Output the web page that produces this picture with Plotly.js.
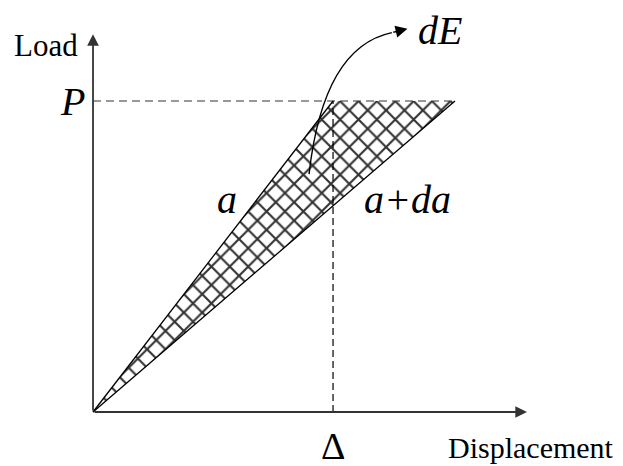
<!DOCTYPE html>
<html><head><meta charset="utf-8">
<script src="https://cdn.plot.ly/plotly-3.0.1.min.js"></script>
<style>html,body{margin:0;padding:0;background:#fff}#chart{width:623px;height:466px}</style>
</head><body><div id="chart"></div>
<script>
// Data (normalized units: Δ = 1 displacement, P = 1 load)
const origin = [0, 0];
const lineA_x = [0, 1];        // crack length a : reaches P at Δ
const lineA_y = [0, 1];
const lineAda_x = [0, 1.508];  // crack length a+da
const lineAda_y = [0, 1];
const hatchX = [0, 1, 1.508, 0];
const hatchY = [0, 1, 1, 0];
const dashH_x = [0, 1.508];
const dashH_y = [1, 1];
const dashV_x = [1, 1];
const dashV_y = [0, 1];
const axisTipX = 1.808;
const axisTipY = 1.215;
const curveX = [0.9, 0.94, 1.06, 1.245];
const curveY = [0.765, 1.04, 1.19, 1.22];
const curveTip = [1.31, 1.232];
const labels = [
  {text: 'Load', x: -0.196, y: 1.178, size: 31, italic: false},
  {text: 'P', x: -0.085, y: 1.0, size: 40, italic: true},
  {text: 'dE', x: 1.445, y: 1.228, size: 40, italic: true},
  {text: 'a', x: 0.56, y: 0.682, size: 40, italic: true},
  {text: 'a+da', x: 1.31, y: 0.682, size: 40, italic: true},
  {text: 'Δ', x: 1.0, y: -0.108, size: 38, italic: false},
  {text: 'Displacement', x: 1.825, y: -0.115, size: 30, italic: false}
];

const traces = [
  {x: hatchX, y: hatchY, mode: 'lines', fill: 'toself', line: {width: 0},
   fillcolor: 'rgba(0,0,0,0)',
   fillpattern: {shape: 'x', size: 13, solidity: 0.3, fgcolor: '#333', bgcolor: '#fff'},
   hoverinfo: 'skip'},
  {x: dashH_x, y: dashH_y, mode: 'lines', line: {color: '#333', width: 1.2, dash: '8px,5px'}},
  {x: dashV_x, y: dashV_y, mode: 'lines', line: {color: '#000', width: 1.2, dash: '7px,4px'}},
  {x: lineA_x, y: lineA_y, mode: 'lines', line: {color: '#000', width: 1.3}},
  {x: lineAda_x, y: lineAda_y, mode: 'lines', line: {color: '#000', width: 1.3}}
];

const annotations = [
  {x: axisTipX, y: 0, ax: origin[0], ay: origin[1], axref: 'x', ayref: 'y', xref: 'x', yref: 'y',
   showarrow: true, arrowhead: 2, arrowsize: 1.3, arrowwidth: 1.8, arrowcolor: '#333', text: '', standoff: 0},
  {x: 0, y: axisTipY, ax: origin[0], ay: origin[1], axref: 'x', ayref: 'y', xref: 'x', yref: 'y',
   showarrow: true, arrowhead: 2, arrowsize: 1.3, arrowwidth: 1.8, arrowcolor: '#333', text: '', standoff: 0},
  {x: curveTip[0], y: curveTip[1], ax: curveX[3], ay: curveY[3], axref: 'x', ayref: 'y', xref: 'x', yref: 'y',
   showarrow: true, arrowhead: 2, arrowsize: 1.7, arrowwidth: 1.4, arrowcolor: '#000', text: '', standoff: 0}
];
labels.forEach(l => annotations.push({
  x: l.x, y: l.y, xref: 'x', yref: 'y', showarrow: false,
  text: l.italic ? '<i>' + l.text + '</i>' : l.text,
  font: {family: 'Liberation Serif, Times New Roman, serif', size: l.size, color: '#000'}
}));

const path = 'M ' + curveX[0] + ',' + curveY[0] + ' C ' + curveX[1] + ',' + curveY[1] + ' ' +
  curveX[2] + ',' + curveY[2] + ' ' + curveX[3] + ',' + curveY[3];

const layout = {
  width: 623, height: 466,
  margin: {l: 0, r: 0, t: 0, b: 0},
  paper_bgcolor: '#fff', plot_bgcolor: '#fff',
  showlegend: false,
  xaxis: {range: [-0.3875, 2.208], visible: false, fixedrange: true},
  yaxis: {range: [-0.1736, 1.3248], visible: false, fixedrange: true},
  shapes: [{type: 'path', path: path, xref: 'x', yref: 'y', line: {color: '#000', width: 1.4}}],
  annotations: annotations
};
Plotly.newPlot('chart', traces, layout, {displayModeBar: false, staticPlot: true});
</script></body></html>
